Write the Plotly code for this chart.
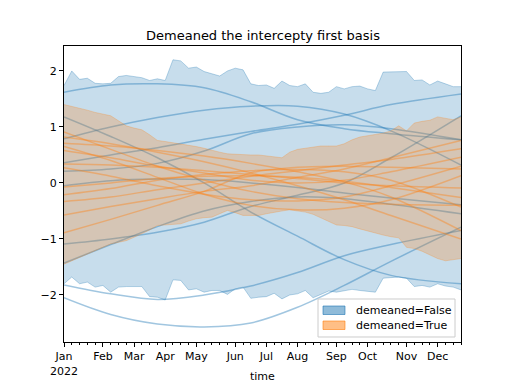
import plotly.graph_objects as go

# ---------------- data ----------------
weeks = list(range(52))
month_weeks = [0, 5, 9, 13, 17, 22, 26, 30, 35, 39, 44, 48]
month_labels = ["Jan<br>2022", "Feb", "Mar", "Apr", "May", "Jun", "Jul", "Aug", "Sep", "Oct", "Nov", "Dec"]
legend_names = ["demeaned=False", "demeaned=True"]

blue_upper = [1.74, 2.0, 1.85, 1.87, 1.78, 1.77, 1.78, 1.9, 1.92, 1.9, 1.88, 1.83, 1.86, 1.83,
              2.2, 2.18, 2.05, 2.07, 1.99, 1.95, 1.91, 2.0, 2.05, 2.02, 1.77, 1.74, 1.75, 1.69,
              1.82, 1.74, 1.72, 1.77, 1.62, 1.6, 1.62, 1.72, 1.68, 1.72, 1.73, 1.68, 1.65, 1.98,
              1.98, 1.98, 1.99, 1.83, 1.84, 1.75, 1.82, 1.77, 1.72, 1.72]
blue_lower = [-1.8, -1.68, -1.8, -1.77, -1.86, -1.83, -1.95, -1.86, -1.85, -1.85, -1.85, -2.03,
              -2.04, -2.09, -1.73, -1.74, -1.91, -1.89, -1.95, -1.92, -1.92, -1.99, -1.89, -1.86,
              -2.06, -2.04, -2.03, -1.97, -2.07, -2.0, -1.98, -1.92, -2.05, -1.99, -1.93, -1.95,
              -1.93, -1.9, -1.92, -1.93, -1.95, -1.7, -1.69, -1.68, -1.7, -1.85, -1.83, -1.86,
              -1.8, -1.84, -1.86, -1.91]
orange_upper = [1.40, 1.37, 1.34, 1.30, 1.26, 1.23, 1.20, 1.11, 1.02, 0.98, 0.95, 0.86, 0.76,
                0.74, 0.72, 0.70, 0.67, 0.65, 0.62, 0.58, 0.55, 0.52, 0.51, 0.50, 0.50, 0.50,
                0.48, 0.46, 0.45, 0.55, 0.60, 0.62, 0.64, 0.66, 0.66, 0.66, 0.70, 0.77, 0.82,
                0.84, 0.86, 0.89, 0.93, 1.02, 0.93, 1.07, 1.10, 1.12, 1.18, 1.15, 1.13, 1.18]
orange_lower = [-1.45, -1.39, -1.33, -1.27, -1.21, -1.15, -1.09, -1.06, -1.03, -0.97, -0.91,
                -0.84, -0.76, -0.75, -0.74, -0.73, -0.68, -0.64, -0.62, -0.61, -0.55, -0.49,
                -0.53, -0.58, -0.58, -0.58, -0.55, -0.52, -0.50, -0.48, -0.50, -0.52, -0.56,
                -0.62, -0.68, -0.75, -0.76, -0.78, -0.82, -0.86, -0.89, -0.93, -0.96, -0.98,
                -1.15, -1.17, -1.22, -1.29, -1.35, -1.39, -1.37, -1.35]

# sampled basis curves, read at these weeks
curve_weeks = [0, 6, 12, 18, 24, 30, 36, 42, 51]
blue_curves = [
    [1.62, 1.75, 1.77, 1.70, 1.45, 1.13, 0.97, 0.88, 0.77],
    [0.79, 1.00, 1.17, 1.30, 1.37, 1.37, 1.23, 0.93, 0.32],
    [0.36, 0.50, 0.63, 0.78, 0.92, 1.05, 1.21, 1.40, 1.59],
    [1.18, 0.83, 0.45, 0.00, -0.52, -0.95, -1.37, -1.65, -1.80],
    [0.21, 0.25, 0.35, 0.57, 0.88, 1.00, 1.04, 0.97, 0.77],
    [-0.05, 0.04, 0.07, 0.06, 0.00, -0.08, -0.18, -0.27, -0.39],
    [-1.09, -1.00, -0.88, -0.70, -0.42, -0.22, 0.00, 0.45, 1.20],
    [-1.43, -1.10, -0.78, -0.50, -0.33, -0.25, -0.28, -0.38, -0.55],
    [-1.82, -1.98, -2.08, -2.00, -1.84, -1.60, -1.30, -1.10, -0.85],
    [-2.05, -2.35, -2.52, -2.57, -2.50, -2.22, -1.83, -1.40, -0.79],
]
orange_curves = [
    [0.91, 0.60, 0.30, 0.05, -0.15, -0.28, -0.35, -0.38, -0.40],
    [0.82, 0.70, 0.55, 0.38, 0.18, -0.05, -0.30, -0.58, -1.00],
    [0.71, 0.66, 0.58, 0.48, 0.35, 0.20, 0.02, -0.25, -0.85],
    [0.65, 0.40, 0.10, -0.20, -0.40, -0.48, -0.45, -0.30, 0.13],
    [0.58, 0.45, 0.30, 0.18, 0.05, 0.00, 0.05, 0.20, 0.46],
    [0.34, 0.32, 0.28, 0.22, 0.15, 0.08, 0.00, -0.05, -0.09],
    [0.27, 0.12, -0.05, -0.20, -0.30, -0.32, -0.25, -0.05, 0.30],
    [-0.07, 0.00, 0.08, 0.12, 0.13, 0.10, 0.03, -0.08, -0.26],
    [-0.21, -0.10, 0.05, 0.15, 0.22, 0.24, 0.20, 0.05, -0.43],
    [-0.33, -0.25, -0.12, 0.00, 0.12, 0.22, 0.32, 0.42, 0.61],
    [-0.57, -0.42, -0.28, -0.15, -0.05, 0.10, 0.25, 0.45, 0.76],
    [-0.89, -0.65, -0.40, -0.15, 0.18, 0.28, 0.30, 0.28, 0.25],
]

# ---------------- figure ----------------
BLUE = "31,119,180"
ORANGE = "255,127,14"

fig = go.Figure()

# blue band
fig.add_trace(go.Scatter(x=weeks, y=blue_lower, mode="lines",
                         line=dict(color=f"rgba({BLUE},0.3)", width=1),
                         showlegend=False, hoverinfo="skip"))
fig.add_trace(go.Scatter(x=weeks, y=blue_upper, mode="lines", fill="tonexty",
                         fillcolor=f"rgba({BLUE},0.25)",
                         line=dict(color=f"rgba({BLUE},0.3)", width=1),
                         showlegend=False, hoverinfo="skip"))
for c in blue_curves:
    fig.add_trace(go.Scatter(x=curve_weeks, y=c, mode="lines",
                             line=dict(color=f"rgba({BLUE},0.42)", width=1.5, shape="spline", smoothing=1.0),
                             showlegend=False, hoverinfo="skip"))

# orange band
fig.add_trace(go.Scatter(x=weeks, y=orange_lower, mode="lines",
                         line=dict(color=f"rgba({ORANGE},0.25)", width=1),
                         showlegend=False, hoverinfo="skip"))
fig.add_trace(go.Scatter(x=weeks, y=orange_upper, mode="lines", fill="tonexty",
                         fillcolor=f"rgba({ORANGE},0.25)",
                         line=dict(color=f"rgba({ORANGE},0.25)", width=1),
                         showlegend=False, hoverinfo="skip"))
for c in orange_curves:
    fig.add_trace(go.Scatter(x=curve_weeks, y=c, mode="lines",
                             line=dict(color=f"rgba({ORANGE},0.4)", width=1.5, shape="spline", smoothing=1.0),
                             showlegend=False, hoverinfo="skip"))

font = "DejaVu Sans, sans-serif"

# manual legend (matplotlib-like), paper coordinates
shapes = [
    dict(type="rect", xref="paper", yref="paper", x0=0.6398, x1=0.9849, y0=0.0169, y1=0.1453,
         line=dict(color="rgb(204,204,204)", width=1), fillcolor="rgba(255,255,255,0.8)", layer="above"),
    dict(type="rect", xref="paper", yref="paper", x0=0.6524, x1=0.7078, y0=0.0929, y1=0.1216,
         line=dict(color=f"rgba({BLUE},0.6)", width=1), fillcolor=f"rgba({BLUE},0.5)", layer="above"),
    dict(type="rect", xref="paper", yref="paper", x0=0.6524, x1=0.7078, y0=0.0422, y1=0.0709,
         line=dict(color=f"rgba({ORANGE},0.6)", width=1), fillcolor=f"rgba({ORANGE},0.5)", layer="above"),
]
annotations = [
    dict(text="Demeaned the intercepty first basis", x=0.5, y=1.037, xref="paper", yref="paper",
         xanchor="center", yanchor="middle", showarrow=False, font=dict(size=13, family=font)),
    dict(text="time", x=0.5, y=-0.118, xref="paper", yref="paper",
         xanchor="center", yanchor="middle", showarrow=False, font=dict(size=11, family=font)),
    dict(text=legend_names[0], x=0.7305, y=0.1064, xref="paper", yref="paper",
         xanchor="left", yanchor="middle", showarrow=False, font=dict(size=11, family=font)),
    dict(text=legend_names[1], x=0.7305, y=0.0557, xref="paper", yref="paper",
         xanchor="left", yanchor="middle", showarrow=False, font=dict(size=11, family=font)),
]

fig.update_layout(
    width=512, height=384,
    margin=dict(l=64, r=51, t=46, b=42, pad=0),
    paper_bgcolor="white", plot_bgcolor="white",
    font=dict(family=font, size=11, color="black"),
    showlegend=False,
    shapes=shapes,
    annotations=annotations,
)
fig.update_xaxes(range=[0, 51], tickmode="array", tickvals=month_weeks, ticktext=month_labels,
                 ticks="outside", ticklen=4, tickcolor="black", showgrid=False, zeroline=False,
                 showline=True, linecolor="black", linewidth=1, mirror=True, automargin=False,
                 minor=dict(ticks="outside", ticklen=2, dtick=1, tick0=0, tickcolor="black", showgrid=False))
fig.update_yaxes(range=[-2.84, 2.446], tickmode="array", tickvals=[-2, -1, 0, 1, 2],
                 ticks="outside", ticklen=4, tickcolor="black", showgrid=False, zeroline=False,
                 showline=True, linecolor="black", linewidth=1, mirror=True, automargin=False)

fig.write_html("out.html", config={"displayModeBar": False},
               post_script="document.body.style.margin='0';")
